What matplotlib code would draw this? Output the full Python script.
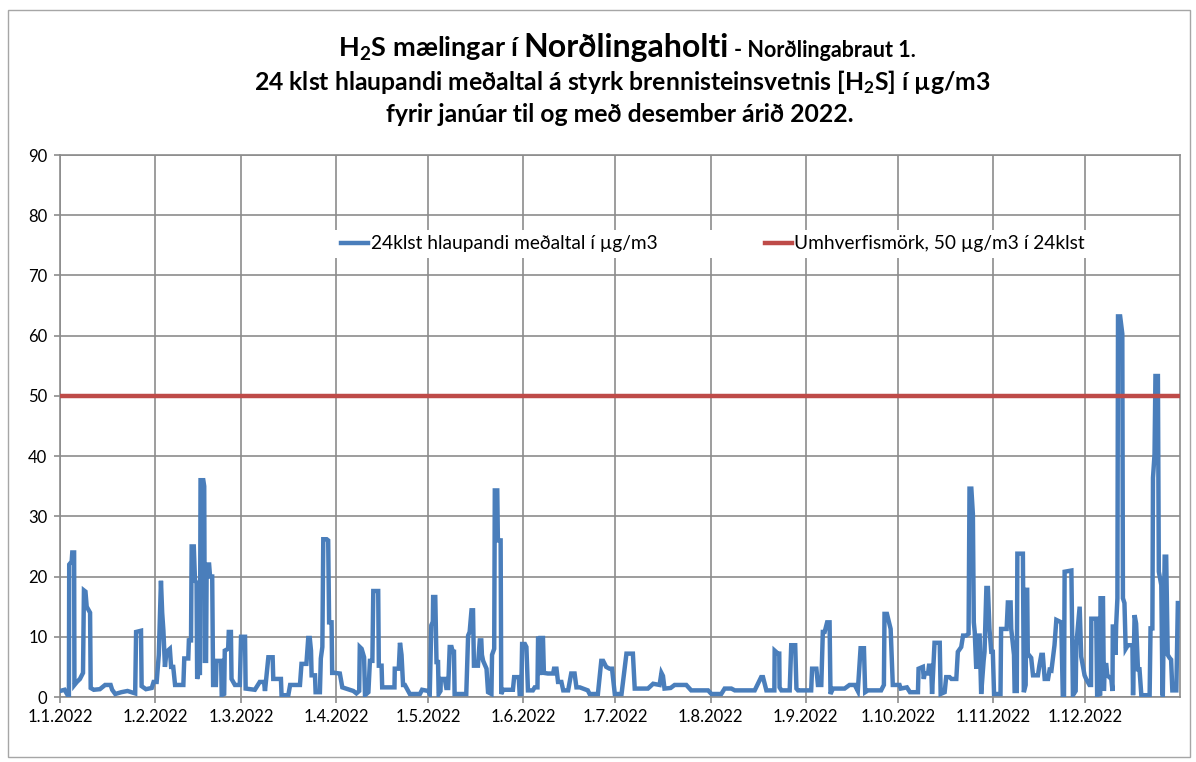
"""
H2S 24h running mean at Norðlingaholt, 2022 (Excel-style line chart).
Writes out.png
"""
import numpy as np
import matplotlib
matplotlib.use("Agg")
import matplotlib.pyplot as plt
from matplotlib.patches import Rectangle

plt.rcParams.update({
    "font.family": ["Lato", "DejaVu Sans"],
    "mathtext.fontset": "custom",
    "mathtext.rm": "Lato:bold",
    "mathtext.bf": "Lato:bold",
    "mathtext.default": "bf",
})

# --- data: (day of year from 1 Jan, ug/m3) ----------------------------------
obs = [
    # January
    (0, 1.0), (1.5, 1.2), (2.5, 0.3), (2.9, 0.2), (3.0, 22), (3.8, 22.5), (4.0, 24),
    (4.6, 24), (4.7, 2), (5.5, 2.5), (6.5, 3), (7.5, 4), (7.8, 17.7), (8.3, 17.5),
    (8.7, 15), (9.8, 14), (10.0, 1.5), (11, 1.2), (13, 1.3), (14.7, 2), (16.5, 2),
    (17, 1.2), (18, 0.5), (20, 0.8), (22, 1.0), (24.5, 0.6), (24.8, 10.8), (26.4, 11),
    (26.6, 1.8), (28, 1.3), (29.9, 1.5), (30.5, 2.5),
    # February
    (31.5, 2.5), (32.2, 7), (32.9, 19.3), (33.3, 14), (33.7, 11), (34.2, 5), (34.7, 7.5),
    (35.8, 8), (36.2, 5), (36.9, 5), (37.5, 2), (38.5, 2), (40.2, 2), (40.5, 6.4),
    (41.8, 6.4), (42, 9.4), (42.7, 9.4), (42.9, 25), (43.6, 25), (44, 19.3), (44.5, 19),
    (44.7, 3), (45.1, 4), (45.6, 4), (45.8, 36), (46.7, 36), (47, 35), (47.2, 6),
    (47.6, 6), (47.8, 22), (48.6, 22), (48.9, 20), (49.6, 20), (49.9, 2), (50.8, 2),
    (51, 6), (52.5, 6), (52.7, 0.3), (53.5, 0.5), (53.7, 7.7), (54.8, 8), (55, 10.8),
    (55.7, 10.8), (55.9, 3), (57, 2), (58.6, 2),
    # March
    (59, 10), (60.3, 10), (60.5, 1.4), (63.5, 1.2), (65.1, 2.5), (66.5, 2.5),
    (66.8, 1), (67.9, 6.6), (69.3, 6.6), (69.5, 3), (72, 3), (72.2, 0.3), (74.4, 0.3),
    (75, 2), (78.2, 2), (78.7, 5.5), (80.3, 5.5), (80.9, 9.8), (81.4, 9.8), (81.8, 7.7),
    (82, 3.6), (83.1, 3.6), (83.3, 0.8), (84.7, 0.8), (85, 6.4), (85.5, 8.3),
    (85.8, 26.2), (86.9, 26.2), (87.4, 26), (87.7, 12.4), (88.5, 12.4), (88.7, 4),
    (89.6, 4),
    # April
    (91.2, 3.9), (92, 1.6), (95.6, 1), (96.6, 0.6), (97.5, 1), (97.7, 8.3), (98.3, 8),
    (99.1, 6.6), (99.4, 0.3), (100.5, 0.8), (101, 6), (101.8, 6), (102.1, 17.6),
    (103.7, 17.6), (103.9, 5.2), (104.8, 5.2), (105, 1.6), (109, 1.6), (109.1, 4.7),
    (110.4, 4.7), (110.8, 9), (111.3, 7), (111.8, 2), (112.4, 2), (114, 0.5),
    (117.3, 0.5), (118, 1.2),
    # May
    (120, 1.0), (120.5, 0.5), (121, 11.9), (121.5, 12.5), (121.6, 16.6), (122.3, 16.6),
    (122.7, 5.8), (123.2, 5.8), (123.4, 0.5), (124, 1), (124.1, 3), (125.4, 3),
    (125.9, 1.5), (126.5, 1.5), (127, 8.3), (127.6, 8.3), (128, 7.5), (128.4, 7.5),
    (128.6, 0.5), (132.4, 0.5), (133, 10.2), (133.5, 10.8), (134.1, 14.4),
    (134.6, 14.4), (134.9, 5.2), (136.2, 5.2), (136.8, 9.4), (137.3, 9.4), (137.5, 7),
    (137.9, 6), (139, 4.7), (139.5, 0.8), (140.6, 0.5), (140.8, 7), (141.5, 8),
    (141.7, 34.3), (142.5, 34.3), (142.7, 26), (143.6, 26), (143.8, 0.5), (144.4, 1.2),
    (147.6, 1.2), (148, 3.3), (149.5, 3.3), (149.8, 0.5),
    # June
    (150.3, 0.5), (150.6, 8.8), (151.5, 8.8), (152, 8.3), (152.5, 1.1), (154.1, 1.1),
    (154.7, 1.6), (155.6, 1.6), (155.8, 9.7), (156.2, 9.7), (156.3, 4), (156.5, 4),
    (156.6, 9.8), (157.4, 9.8), (157.7, 4), (159, 3.9), (160.7, 3.9), (161, 4.7),
    (161.8, 4.7), (162.3, 2.5), (163.4, 2.5), (164, 1.1), (165.6, 1.1), (166.6, 3.9),
    (167.7, 3.9), (168.3, 1.6), (169.4, 1.6), (172, 1.1), (172.6, 0.5), (175.3, 0.5),
    (176.4, 6), (177, 6), (178, 5), (179.1, 4.7), (179.9, 4.7), (180.8, 0.5),
    # July
    (183, 0.5), (184.6, 7.2), (186.7, 7.2), (187.3, 1.4), (191.6, 1.4), (193.3, 2.2),
    (195.4, 2), (196, 4), (196.5, 3.5), (197, 1.4), (199, 1.5), (200.3, 2), (204.1, 2),
    (205.7, 1.1), (211.2, 1.1),
    # August
    (212.3, 0.5), (215.5, 0.5), (216.6, 1.4), (218.8, 1.4), (219.9, 1.1), (226.4, 1.1),
    (228.5, 3.3), (229.1, 3.3), (230.2, 1.1), (232.8, 1.1), (232.9, 7.7), (234, 7.2),
    (234.4, 7.2), (234.5, 1.6), (235.1, 1.1), (237.8, 1.1), (238.3, 8.6), (239.6, 8.6),
    (240, 1.4), (240.5, 1.1),
    # September
    (244.8, 1.1), (245.1, 4.7), (246.5, 4.7), (247, 2), (248.1, 2), (248.6, 10.8),
    (249.2, 10.8), (250, 12.4), (250.8, 12.4), (251.1, 0.5), (251.9, 1.4),
    (255.7, 1.4), (257.3, 2), (259, 2), (260, 1), (260.9, 8.1), (262, 8.1),
    (262.4, 0.8), (263.3, 1.1), (267.6, 1.1), (268.5, 2), (268.7, 13.8),
    (269.5, 13.8), (270.7, 11.3), (271.4, 2),
    # October
    (273.6, 2), (274, 1.4), (276, 1.6), (277, 0.8), (279.6, 0.8), (279.8, 4.7),
    (281.2, 5), (281.5, 3), (281.8, 3.9), (282.9, 3.9), (283.2, 5.2), (283.9, 5.2),
    (284.2, 0.5), (285, 9), (286.7, 9), (287, 0.5), (288.3, 0.8), (288.8, 3.3),
    (289.9, 3.3), (290.5, 3), (292.1, 3), (292.6, 7.5), (293.7, 8.3), (294.3, 10.2),
    (295.3, 10.2), (296.1, 10.5), (296.4, 34.6), (297, 34.6), (297.5, 30.4),
    (297.8, 12.4), (298.1, 10.8), (298.6, 4.7), (299.1, 10.2), (299.7, 10.2),
    (300.2, 0.5), (301, 6), (301.3, 7.5), (301.9, 18.1), (302.4, 18.1), (302.9, 11.3),
    (303.5, 7.5),
    # November
    (304, 7.5), (304.4, 0.5), (306.5, 0.5), (306.7, 11.3), (307.8, 11.3), (308.5, 11.3),
    (308.9, 15.7), (309.8, 15.7), (310, 11.3), (310.9, 7), (311.1, 1), (311.8, 1),
    (312, 23.8), (313.8, 23.8), (314.1, 0.8), (314.7, 2), (314.9, 17.8), (315.2, 17.8),
    (315.4, 7.2), (316.5, 6.5), (317.1, 3.6), (318.7, 3.6), (319.2, 5.3), (319.8, 7),
    (320.3, 7), (320.9, 3), (322, 3), (322.5, 4.5), (323.1, 4.4), (324.1, 8.6),
    (324.7, 12.8), (326.3, 12.4), (326.8, 0.3), (327.2, 0.3), (327.4, 20.8),
    (329.6, 21), (330.1, 0.3), (331, 1), (331.2, 8.6), (332.3, 15), (332.8, 6.7),
    (333.9, 3.6),
    # December
    (334.4, 3), (335.5, 2), (336, 2), (336.1, 13), (337.7, 13), (338, 0.3), (339, 0.5),
    (339.1, 16.4), (339.9, 16.4), (340.2, 1), (340.5, 5.3), (341, 5.3), (341.3, 3.6),
    (342.6, 3), (343, 1), (343.1, 11.7), (343.7, 11.7), (344, 7), (344.2, 12),
    (344.6, 16.4), (344.8, 63.2), (345.5, 63.2), (346.2, 60.3), (346.4, 16.4),
    (346.9, 15.6), (347.3, 8), (348, 8.6), (349.5, 8.6), (349.7, 0.3), (350.2, 13.6),
    (350.7, 12.2), (351.3, 4.6), (351.8, 4.6), (352.4, 0.3), (355.1, 0.3),
    (355.4, 11.4), (356, 11.4), (356.2, 36.4), (356.7, 40.3), (357, 53.3),
    (357.8, 53.3), (358.1, 20.8), (358.9, 18.6), (359.3, 0.3), (359.4, 0.3),
    (360, 23.3), (360.5, 23.3), (361, 7), (361.6, 6.5), (362.1, 6.2), (362.5, 1.1),
    (363.8, 1.1), (364.3, 15.6), (364.9, 15.6),
]
days = np.array([d for d, _ in obs])
h2s = np.array([v for _, v in obs])

limit_days = [0, 365]
limit = [50, 50]

month_ticks = [0, 31, 59, 90, 120, 151, 181, 212, 243, 273, 304, 334]
month_labels = ["1.1.2022", "1.2.2022", "1.3.2022", "1.4.2022", "1.5.2022", "1.6.2022",
                "1.7.2022", "1.8.2022", "1.9.2022", "1.10.2022", "1.11.2022", "1.12.2022"]

BLUE = "#4A7EBB"
RED = "#BE4B48"
GRID = "#8C8C8C"

fig = plt.figure(figsize=(11.96, 7.62), dpi=100)
ax = fig.add_axes([60 / 1196, 1 - 697 / 762, 1120 / 1196, 542 / 762])

ax.plot(days, h2s, color=BLUE, lw=3.2, solid_joinstyle="miter",
        label="24klst hlaupandi meðaltal í µg/m3", zorder=3)
ax.plot(limit_days, limit, color=RED, lw=3.2,
        label="Umhverfismörk, 50 µg/m3 í 24klst", zorder=3)

ax.set_xlim(0, 365)
ax.set_ylim(0, 90)
ax.set_yticks(np.arange(0, 91, 10))
ax.set_xticks(month_ticks)
ax.set_xticklabels(month_labels)
ax.grid(True, color=GRID, lw=1.2)
for s in ax.spines.values():
    s.set_color(GRID)
    s.set_linewidth(1.2)
ax.tick_params(colors=GRID, length=4, width=1.2, labelsize=12, labelcolor="black", pad=5)

leg = ax.legend(loc="center", bbox_to_anchor=(0.583, 0.836), ncol=2, fontsize=13.8,
                frameon=True, fancybox=False, edgecolor="none", framealpha=1,
                handlelength=1.4, handletextpad=0.15, columnspacing=5.6,
                borderpad=0.3)
leg.set_zorder(5)

# --- title, three centred lines; first line mixes font sizes ---------------
renderer = fig.canvas.get_renderer()
cx = 627 / 1196
parts = [("H$_2$S mælingar í", 19.5), ("Norðlingaholti", 23), ("- Norðlingabraut 1.", 15.5)]
gaps = [2 / 1196, 6 / 1196, 0]
texts = [fig.text(0, 1 - 57 / 762, s, fontsize=fs, fontweight="bold", va="baseline")
         for s, fs in parts]
widths = [t.get_window_extent(renderer).width / fig.bbox.width for t in texts]
x0 = cx - (sum(widths) + sum(gaps)) / 2
for t, w, g in zip(texts, widths, gaps):
    t.set_x(x0)
    x0 += w + g
fig.text(622 / 1196, 1 - 90 / 762,
         "24 klst hlaupandi meðaltal á styrk brennisteinsvetnis [H$_2$S] í µg/m3",
         fontsize=17.8, fontweight="bold", ha="center", va="baseline")
fig.text(620 / 1196, 1 - 122 / 762, "fyrir janúar til og með desember árið 2022.",
         fontsize=17.8, fontweight="bold", ha="center", va="baseline")

# chart-area frame like the Excel chart object
fig.patches.append(Rectangle((8 / 1196, 1 - 757 / 762), 1182 / 1196, 747 / 762,
                             transform=fig.transFigure, fill=False,
                             edgecolor="#A6A6A6", lw=1))

fig.savefig("out.png", dpi=100, facecolor="white")
